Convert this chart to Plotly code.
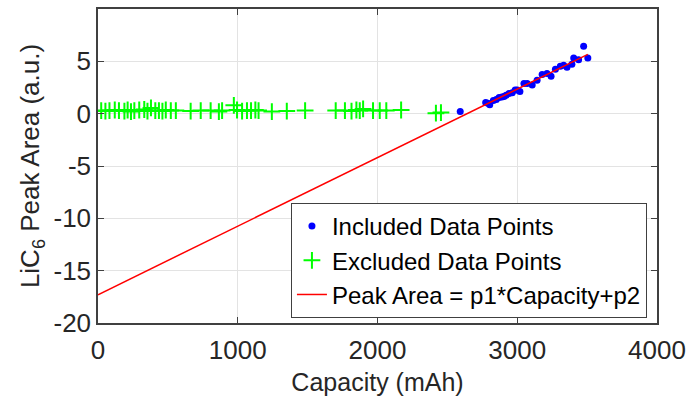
import plotly.graph_objects as go

# Excluded data points (green +)
green_x = [23, 53, 82, 120, 150, 189, 212, 236, 260, 295, 331, 354, 379, 410, 436, 461,
           485, 521, 557, 663, 735, 806, 865, 888, 972, 995, 1031, 1066, 1095, 1126, 1149,
           1244, 1351, 1482, 1701, 1767, 1814, 1849, 1873, 1897, 1968, 2016, 2063, 2169,
           2418, 2454]
green_y = [0.3, 0.25, 0.3, 0.35, 0.3, 0.25, 0.35, 0.2, 0.3, 0.35, 0.4, 0.25, 0.55, 0.3, 0.3, 0.25,
           0.35, 0.3, 0.3, 0.25, 0.3, 0.3, 0.2, 0.3, 0.8, 0.35, 0.25, 0.3, 0.3, 0.35, 0.3,
           0.2, 0.25, 0.3, 0.3, 0.3, 0.25, 0.35, 0.3, 0.45, 0.3, 0.3, 0.3, 0.35,
           0.05, 0.1]

# Included data points (blue dots)
blue_x = [2592, 2774, 2790, 2803, 2829, 2850, 2870, 2890, 2905, 2920, 2941, 2964, 2985, 3000,
          3019, 3048, 3071, 3107, 3142, 3178, 3213, 3242, 3273, 3308, 3332, 3356, 3391,
          3404, 3439, 3475, 3505]
blue_y = [0.2, 1.07, 1.0, 0.85, 1.26, 1.35, 1.54, 1.6, 1.64, 1.75, 1.92, 2.0, 2.25, 2.27,
          2.11, 2.88, 2.88, 2.74, 3.2, 3.74, 3.83, 3.58, 4.25, 4.53, 4.63, 4.44, 4.72,
          5.32, 5.16, 6.43, 5.31]

# Linear fit line endpoints
fit_x = [0, 3505]
fit_y = [-17.3, 5.66]

x_ticks = [0, 1000, 2000, 3000, 4000]
y_ticks = [-20, -15, -10, -5, 0, 5]

FONT = "Liberation Sans, Arial, sans-serif"
AX = "#404040"
TXT = "#262626"

fig = go.Figure()
fig.add_trace(go.Scatter(x=blue_x, y=blue_y, mode="markers", name="Included Data Points",
                         marker=dict(color="#0000ff", size=7, symbol="circle")))
fig.add_trace(go.Scatter(x=green_x, y=green_y, mode="markers", name="Excluded Data Points",
                         marker=dict(symbol="cross-thin", size=12,
                                     line=dict(color="#00ff00", width=2), color="#00ff00")))
fig.add_trace(go.Scatter(x=fit_x, y=fit_y, mode="lines", name="Peak Area = p1*Capacity+p2",
                         line=dict(color="#ff0000", width=1.5)))

axis_common = dict(showline=True, linecolor=AX, linewidth=1.5, mirror="ticks",
                   ticks="inside", ticklen=6, tickcolor=AX, tickwidth=1,
                   showgrid=True, gridcolor="#e3e3e3", gridwidth=1, zeroline=False,
                   tickfont=dict(family=FONT, size=26, color=TXT))

fig.update_layout(
    width=693, height=403,
    margin=dict(l=98, r=33, t=7, b=80),
    paper_bgcolor="white", plot_bgcolor="white",
    font=dict(family=FONT, color=TXT),
    xaxis=dict(range=[0, 4000], tickvals=x_ticks, ticktext=[str(v) for v in x_ticks],
               ticklabelstandoff=3,
               title=dict(text="Capacity (mAh)", font=dict(family=FONT, size=25, color=TXT),
                          standoff=10),
               **axis_common),
    yaxis=dict(range=[-20, 10], tickvals=y_ticks, ticktext=[str(v) for v in y_ticks],
               title=dict(text="LiC<sub>6</sub> Peak Area (a.u.)",
                          font=dict(family=FONT, size=26, color=TXT), standoff=6),
               **axis_common),
    legend=dict(x=0.982, y=0.016, xanchor="right", yanchor="bottom",
                bgcolor="white", bordercolor=AX, borderwidth=1,
                font=dict(family=FONT, size=24, color="#000000"),
                itemwidth=30, tracegroupgap=0),
    showlegend=True,
)

fig.write_html("out.html")
